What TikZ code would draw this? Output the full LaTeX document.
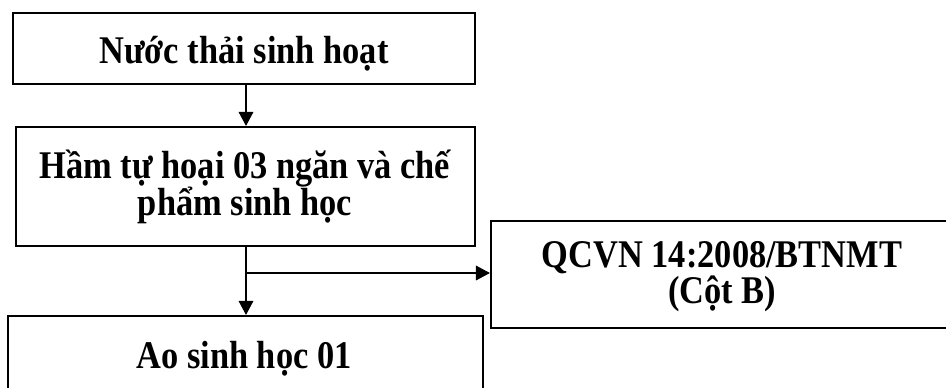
\documentclass[tikz,border=0pt]{standalone}
\usepackage{fontspec}
\usepackage{graphicx}
\setmainfont{Liberation Serif}
\usetikzlibrary{arrows.meta}

% centred lines with a fixed baseline distance, stretched upright
\newcommand{\tallstack}[1]{\scalebox{1}[1.14]{\vbox{%
  \lineskiplimit=-\maxdimen\baselineskip=23.7pt
  \halign{\hfil##\hfil\cr#1\crcr}}}}

\begin{document}
\begin{tikzpicture}[x=0.75pt,y=-0.75pt,
  box/.style={draw=black,line width=1.6pt,rectangle,inner sep=0pt},
  label text/.style={inner sep=0pt,anchor=base,
    font=\fontsize{25.8}{23.7}\selectfont\bfseries},
  arr/.style={draw=black,line width=0.9pt,
    -{Triangle[width=11pt,length=10.5pt]}}]
  \clip (0,0) rectangle (946,387);
  \useasboundingbox (0,0) rectangle (946,387);

  % process boxes
  \node[box,minimum width=462*0.75pt,minimum height=71*0.75pt]
    (b1) at (244,48.5) {};
  \node[box,minimum width=459*0.75pt,minimum height=119*0.75pt]
    (b2) at (245.5,186.5) {};
  \node[box,minimum width=475*0.75pt,minimum height=81*0.75pt]
    (b3) at (245.5,356.5) {};
  \node[box,minimum width=462*0.75pt,minimum height=107*0.75pt]
    (b4) at (722,274.5) {};

  % box captions (anchored on the last baseline)
  \node[label text] (t1) at (244,63.5) {\tallstack{Nước thải sinh hoạt}};
  \node[label text] (t2) at (245,215) {\tallstack{Hầm tự hoại 03 ngăn và chế\cr phẩm sinh học}};
  \node[label text] (t3) at (244,368) {\tallstack{Ao sinh học 01}};
  \node[label text] (t4) at (722,303.5) {\tallstack{QCVN 14:2008/BTNMT\cr (Cột B)}};

  % main trunk and branch
  \coordinate (trunk) at (246,0);
  \coordinate (tap) at (246,273);
  \draw[arr] (b1.south -| trunk) -- (b2.north -| trunk);
  \draw[arr] (b2.south -| trunk) -- (b3.north -| trunk);
  \draw[arr] (tap) -- (tap -| b4.west);
\end{tikzpicture}
\end{document}
